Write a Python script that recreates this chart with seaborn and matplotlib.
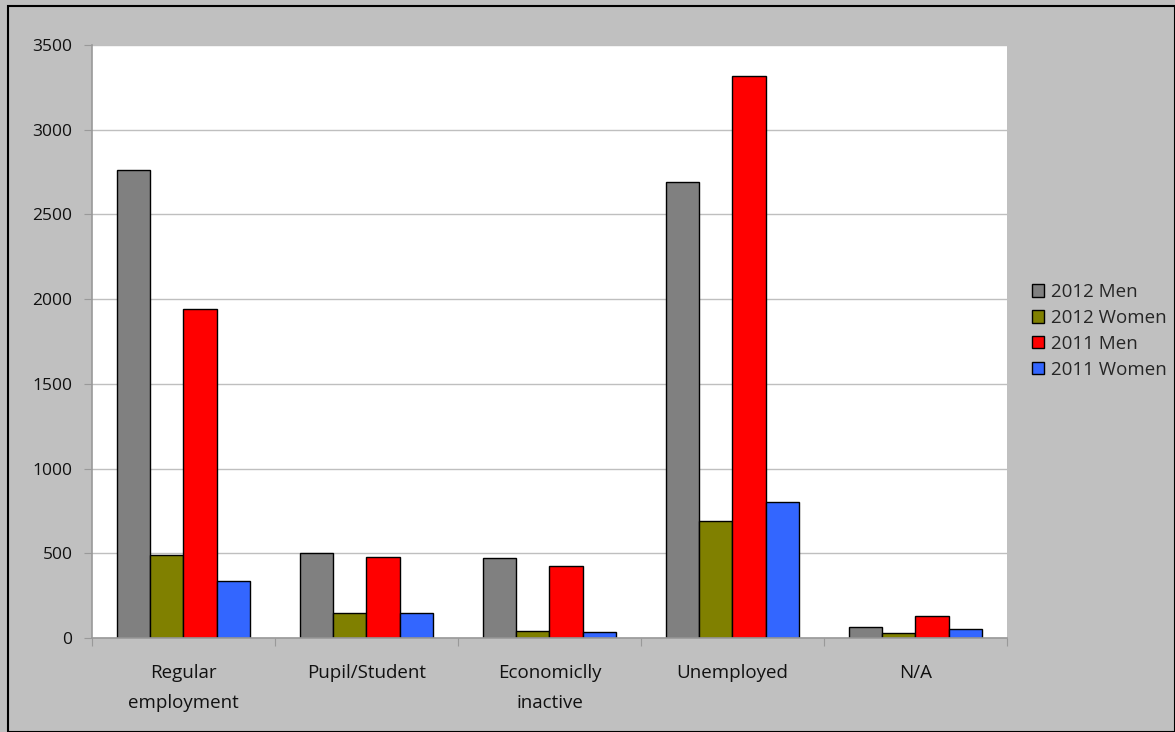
import pandas as pd
import numpy as np
import matplotlib
matplotlib.use("Agg")
import matplotlib.pyplot as plt
import seaborn as sns
from matplotlib.patches import Rectangle

categories = ["Regular\nemployment", "Pupil/Student", "Economiclly\ninactive", "Unemployed", "N/A"]
series = ["2012 Men", "2012 Women", "2011 Men", "2011 Women"]
men_2012 = [2760, 500, 470, 2690, 65]
women_2012 = [490, 150, 43, 689, 28]
men_2011 = [1940, 480, 427, 3320, 128]
women_2011 = [335, 150, 34, 803, 55]
colors = ["#808080", "#808000", "#ff0000", "#3366ff"]

rows = []
for name, vals in zip(series, [men_2012, women_2012, men_2011, women_2011]):
    for c, v in zip(categories, vals):
        rows.append({"category": c, "series": name, "value": v})
df = pd.DataFrame(rows)

sns.set_style("white")
plt.rcParams["font.family"] = ["Open Sans", "DejaVu Sans"]

fig = plt.figure(figsize=(11.75, 7.32), dpi=100)
fig.patch.set_facecolor("#c0c0c0")
ax = fig.add_axes([0.0783, 0.1284, 0.857 - 0.0783, 0.9385 - 0.1284])

sns.barplot(data=df, x="category", y="value", hue="series", palette=colors,
            width=0.73, edgecolor="black", linewidth=1, saturation=1, ax=ax)

ax.set_ylim(0, 3500)
ax.set_yticks(np.arange(0, 3501, 500))
ax.set_xlim(-0.5, len(categories) - 0.5)
ax.yaxis.grid(True, color="#bfbfbf", linewidth=1)
ax.set_axisbelow(True)
ax.set_xlabel("")
ax.set_ylabel("")

# ticks between categories, labels centered
ax.set_xticks(np.arange(-0.5, len(categories), 1.0))
ax.set_xticklabels([])
ax.set_xticks(np.arange(len(categories)), minor=True)
ax.set_xticklabels(categories, minor=True, fontsize=13.5, linespacing=1.85, color="#111111")
ax.tick_params(axis="x", which="minor", length=0, pad=19)
ax.tick_params(axis="x", which="major", direction="out", length=6, color="#999999", bottom=True)
ax.tick_params(axis="y", direction="out", length=6, color="#999999", left=True,
               labelsize=12.5, pad=8, labelcolor="#111111")

for s in ["top", "right"]:
    ax.spines[s].set_visible(False)
for s in ["left", "bottom"]:
    ax.spines[s].set_color("#999999")
    ax.spines[s].set_linewidth(1.2)

leg = ax.legend(loc="center left", bbox_to_anchor=(1.0 + 25 / 915, 0.518), frameon=False,
                fontsize=13.5, handlelength=0.65, handleheight=0.65,
                handletextpad=0.35, labelspacing=0.42, borderaxespad=0, borderpad=0)

fig.add_artist(Rectangle((8 / 1175, 0), 1 - 8 / 1175, 1 - 6 / 732, transform=fig.transFigure,
                         fill=False, edgecolor="black", linewidth=1.5))

fig.savefig("out.png", dpi=100, facecolor=fig.get_facecolor())
